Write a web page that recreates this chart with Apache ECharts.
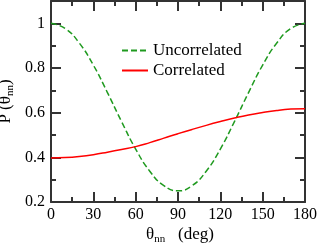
<!DOCTYPE html>
<html><head><meta charset="utf-8">
<script src="https://cdn.jsdelivr.net/npm/echarts@6/dist/echarts.min.js"></script>
<style>html,body{margin:0;padding:0;background:#fff}#c{width:320px;height:244px}</style>
</head><body><div id="c"></div>
<script>
const thetaDeg = [0,10,20,30,40,50,60,70,80,90,100,110,120,130,140,150,160,170,180];
const uncorrelated = [1.0,0.977,0.912,0.813,0.690,0.560,0.437,0.338,0.273,0.250,0.273,0.338,0.437,0.560,0.690,0.813,0.912,0.977,1.0];
const correlated = [0.397,0.399,0.404,0.412,0.423,0.435,0.448,0.466,0.486,0.506,0.525,0.543,0.560,0.576,0.590,0.601,0.610,0.616,0.618];
const seriesNames = ['Uncorrelated','Correlated'];
const xTicks = [0,30,60,90,120,150,180];
const yTicks = [0.2,0.4,0.6,0.8,1];

const FONT = 'Liberation Serif';
const AX = '#333';
const chart = echarts.init(document.getElementById('c'));
const pair = a => thetaDeg.map((t,i)=>[t,a[i]]);
const baseX = {type:'value',min:0,max:180,interval:30,gridIndex:0};
const baseY = {type:'value',min:0.2,max:1.1,gridIndex:0};
chart.setOption({
  animation:false,
  grid:{left:51,right:15,top:1,bottom:42,show:false,containLabel:false,outerBoundsMode:'none'},
  legend:{
    left:116, top:37, orient:'vertical', itemWidth:26, itemHeight:14, itemGap:3,
    itemStyle:{opacity:0},
    textStyle:{fontFamily:FONT,fontSize:17,color:'#000'},
    data:seriesNames
  },
  xAxis:[
    Object.assign({},baseX,{position:'bottom',
      axisLine:{lineStyle:{color:AX,width:2}},
      axisTick:{inside:true,length:10,lineStyle:{color:AX,width:2}},
      minorTick:{show:true,splitNumber:2,length:5,lineStyle:{color:AX,width:2}},
      splitLine:{show:false},
      axisLabel:{fontFamily:FONT,fontSize:16,color:'#000',margin:5},
      name:'θ{sub|nn}   (deg)', nameLocation:'middle', nameGap:22, nameMoveOverlap:false,
      nameTextStyle:{fontFamily:FONT,fontSize:17,color:'#000',padding:[0,0,0,4],
        rich:{sub:{fontFamily:FONT,fontSize:11,padding:[10,0,0,0]}}}
    }),
    Object.assign({},baseX,{position:'top',
      axisLine:{lineStyle:{color:AX,width:2}},
      axisTick:{inside:true,length:10,lineStyle:{color:AX,width:2}},
      minorTick:{show:true,splitNumber:2,length:5,lineStyle:{color:AX,width:2}},
      splitLine:{show:false},axisLabel:{show:false}
    })
  ],
  yAxis:[
    Object.assign({},baseY,{position:'left',interval:0.2,
      axisLine:{show:true,lineStyle:{color:AX,width:2}},
      axisTick:{show:true,inside:true,length:10,lineStyle:{color:AX,width:2}},
      splitLine:{show:false},
      axisLabel:{fontFamily:FONT,fontSize:16,color:'#000',margin:6,showMaxLabel:false,
        formatter:v=>String(+v.toFixed(1))},
      name:'P (θ{sub|nn})', nameLocation:'middle', nameGap:35, nameMoveOverlap:false,
      nameTextStyle:{fontFamily:FONT,fontSize:17,color:'#000',
        rich:{sub:{fontFamily:FONT,fontSize:11,padding:[10,0,0,0]}}}
    }),
    Object.assign({},baseY,{position:'left',interval:0.1,
      axisLine:{show:false},
      axisTick:{show:true,inside:true,length:5,lineStyle:{color:AX,width:2}},
      splitLine:{show:false},axisLabel:{show:false}
    }),
    Object.assign({},baseY,{position:'right',interval:0.2,
      axisLine:{show:true,lineStyle:{color:AX,width:2}},
      axisTick:{show:true,inside:true,length:10,lineStyle:{color:AX,width:2}},
      splitLine:{show:false},axisLabel:{show:false}
    }),
    Object.assign({},baseY,{position:'right',interval:0.1,
      axisLine:{show:false},
      axisTick:{show:true,inside:true,length:5,lineStyle:{color:AX,width:2}},
      splitLine:{show:false},axisLabel:{show:false}
    })
  ],
  series:[
    {name:seriesNames[0],type:'line',data:pair(uncorrelated),smooth:true,symbol:'none',
      itemStyle:{color:'#1f9a1f'},
      lineStyle:{color:'#1f9a1f',width:1.5,type:[6,3]}},
    {name:seriesNames[1],type:'line',data:pair(correlated),smooth:true,symbol:'none',
      itemStyle:{color:'#ff0000'},
      lineStyle:{color:'#ff0000',width:1.5}}
  ]
});
</script></body></html>
